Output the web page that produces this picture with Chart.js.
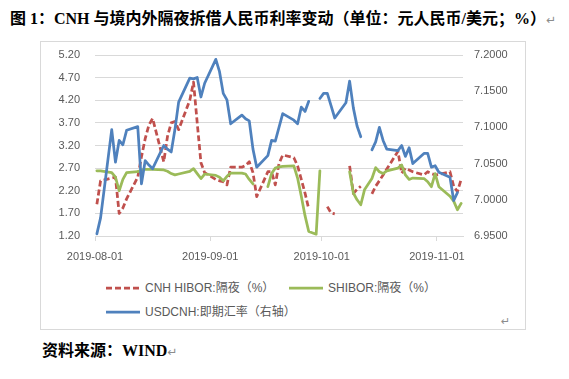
<!DOCTYPE html>
<html><head><meta charset="utf-8">
<script src="https://cdn.jsdelivr.net/npm/chart.js@4.4.0/dist/chart.umd.min.js"></script>
<style>
html,body{margin:0;padding:0;background:#fff;}
body{width:569px;height:379px;overflow:hidden;position:relative;font-family:"Liberation Sans","Noto Sans CJK SC",sans-serif;}
#title{position:absolute;left:10px;top:9px;font-weight:bold;font-size:16px;font-family:"Liberation Serif","Noto Sans CJK SC",serif;white-space:nowrap;color:#000;line-height:20px;}
#source{position:absolute;left:42px;top:341px;font-weight:bold;font-size:16px;font-family:"Liberation Serif","Noto Sans CJK SC",serif;white-space:nowrap;color:#000;line-height:20px;}
.ret{color:#8c8c8c;font-weight:normal;font-size:12px;font-family:"DejaVu Sans",sans-serif;}
#frame{position:absolute;left:40px;top:41px;width:486px;height:289px;border:1px solid #d9d9d9;box-sizing:border-box;}
#c{position:absolute;left:41px;top:42px;}
.legtxt{position:absolute;font-size:12px;color:#595959;white-space:nowrap;line-height:16px;font-family:"Liberation Sans","Noto Sans CJK SC",sans-serif;}
.legsvg{position:absolute;width:34px;height:10px;}
</style>
</head>
<body>
<div id="title">图 1：CNH 与境内外隔夜拆借人民币利率变动（单位：元人民币/美元；%）<span class="ret">↵</span></div>
<div id="frame"></div>
<canvas id="c" width="484" height="229" style="width:484px;height:229px"></canvas>
<svg class="legsvg" style="left:106px;top:283px"><line x1="0" y1="5" x2="34" y2="5" stroke="#C0504D" stroke-width="2.75" stroke-dasharray="6 3"/></svg>
<div class="legtxt" style="left:145px;top:280px">CNH HIBOR:隔夜（%）</div>
<svg class="legsvg" style="left:289px;top:283px"><line x1="0" y1="5" x2="34" y2="5" stroke="#9BBB59" stroke-width="2.75"/></svg>
<div class="legtxt" style="left:328px;top:280px">SHIBOR:隔夜（%）</div>
<svg class="legsvg" style="left:106px;top:307px"><line x1="0" y1="5" x2="34" y2="5" stroke="#4F81BD" stroke-width="2.75"/></svg>
<div class="legtxt" style="left:145px;top:304px">USDCNH:即期汇率（右轴）</div>
<div class="legtxt" style="left:501px;top:314px;color:#8c8c8c;font-size:11px;font-family:'DejaVu Sans'">↵</div>
<div id="source">资料来源：WIND<span class="ret">↵</span></div>
<script>
const dates = [
'2019-08-01','2019-08-02','2019-08-05','2019-08-06','2019-08-07','2019-08-08','2019-08-09',
'2019-08-12','2019-08-13','2019-08-14','2019-08-15','2019-08-16',
'2019-08-19','2019-08-20','2019-08-21','2019-08-22','2019-08-23',
'2019-08-26','2019-08-27','2019-08-28','2019-08-29','2019-08-30',
'2019-09-02','2019-09-03','2019-09-04','2019-09-05','2019-09-06',
'2019-09-09','2019-09-10','2019-09-11','2019-09-12','2019-09-13',
'2019-09-16','2019-09-17','2019-09-18','2019-09-19','2019-09-20',
'2019-09-23','2019-09-24','2019-09-25','2019-09-26','2019-09-27','2019-09-29','2019-09-30',
'2019-10-01','2019-10-02','2019-10-03','2019-10-04','2019-10-07',
'2019-10-08','2019-10-09','2019-10-10','2019-10-11','2019-10-12',
'2019-10-14','2019-10-15','2019-10-16','2019-10-17','2019-10-18',
'2019-10-21','2019-10-22','2019-10-23','2019-10-24','2019-10-25',
'2019-10-28','2019-10-29','2019-10-30','2019-10-31','2019-11-01',
'2019-11-04','2019-11-05','2019-11-06','2019-11-07'];

const cnhHibor = [
1.90,2.42,2.48,2.50,1.70,1.82,2.02, 2.50,2.95,3.35,3.65,3.80, 2.84,3.40,3.70,3.73,3.55, 4.20,4.60,3.70,2.82,2.60,
2.45,2.42,2.40,2.33,2.72, 2.72,2.76,2.84,2.60,2.07, 2.62,2.62,2.33,2.80,2.99, 2.93,2.75,2.45,2.15,1.80, null,null,
null,1.85,1.71,1.69,null, 2.75,2.14,2.23,2.30,null, 2.13,2.30,2.42,2.55,2.68, 3.07,2.59,2.70,2.66,2.62, 2.55,2.62,2.58,2.55,
2.56,2.62,2.30,2.18,2.45];

const shibor = [
2.64,2.64,2.60,2.50,2.20,2.45,2.60, 2.62,2.66,2.67,2.67,2.67, 2.66,2.63,2.58,2.55,2.57, 2.63,2.69,2.58,2.47,2.57,
2.54,2.50,2.42,2.52,2.59, 2.59,2.57,2.45,2.35,null, 2.29,2.58,2.70,2.73,2.74, 2.75,2.48,2.08,1.65,1.30, 1.24,2.64,
null,null,null,null,null, 2.62,2.15,2.00,1.89,2.22, 2.47,2.71,2.62,2.58,2.64, 2.70,2.77,2.55,2.45,2.48, 2.47,2.40,2.29,2.58,
2.29,2.08,1.97,1.78,1.92];

const usdcnh = [
6.953,6.975,7.097,7.052,7.082,7.076,7.096, 7.101,7.022,7.054,7.048,7.043, 7.075,7.070,7.066,7.097,7.135, 7.168,7.167,7.169,7.142,7.161,
7.194,7.177,7.147,7.138,7.105, 7.117,7.112,7.109,7.070,7.045, 7.061,7.082,7.081,7.100,7.119, 7.110,7.105,7.128,7.122,7.136, null,7.140,
7.147,7.147,7.130,7.113,7.134, 7.164,7.127,7.102,7.087,null, 7.069,7.080,7.100,7.082,7.070, 7.068,7.075,7.060,7.072,7.050, 7.064,7.064,7.045,7.047,
7.038,7.031,6.999,7.010,null];

const xTickLabels = ['2019-08-01','2019-09-01','2019-10-01','2019-11-01'];
const leftTicks = {min:1.2, max:5.2, step:0.5};
const rightTicks = {min:6.95, max:7.2, step:0.05};
const seriesNames = ['CNH HIBOR:隔夜（%）','SHIBOR:隔夜（%）','USDCNH:即期汇率（右轴）'];

function dayIndex(s){
  const p = s.split('-').map(Number);
  return (Date.UTC(p[0],p[1]-1,p[2]) - Date.UTC(2019,7,1)) / 86400000;
}
function pts(arr){ return dates.map((d,i)=>({x: dayIndex(d)+0.5, y: arr[i]})); }

const tickFont = {family:'Liberation Sans', size:11};
const lastDay = dayIndex(dates[dates.length-1]) + 1;

new Chart(document.getElementById('c'), {
  type:'line',
  data:{datasets:[
    {label:seriesNames[0], data:pts(cnhHibor), yAxisID:'y', borderColor:'#C0504D', borderWidth:2.75, borderDash:[6,3], order:2},
    {label:seriesNames[1], data:pts(shibor), yAxisID:'y', borderColor:'#9BBB59', borderWidth:2.75, borderCapStyle:'round', order:1},
    {label:seriesNames[2], data:pts(usdcnh), yAxisID:'y1', borderColor:'#4F81BD', borderWidth:2.75, borderCapStyle:'round', order:0}
  ]},
  options:{
    responsive:false, animation:false, devicePixelRatio:1,
    spanGaps:false,
    elements:{point:{radius:0, hoverRadius:0}, line:{tension:0, borderJoinStyle:'round', fill:false}},
    layout:{padding:{top:13,left:0,right:0,bottom:0}},
    plugins:{legend:{display:false}, title:{display:false}, tooltip:{enabled:false}},
    scales:{
      x:{
        type:'linear', min:0, max:lastDay,
        afterBuildTicks:s=>{ s.ticks = xTickLabels.map(l=>({value:dayIndex(l)})); },
        ticks:{autoSkip:false, maxRotation:0, minRotation:0, padding:9, color:'#595959', font:tickFont,
          callback:(v,i)=>xTickLabels[i]},
        grid:{display:true, drawOnChartArea:false, drawTicks:true, tickLength:5, color:'#d9d9d9'},
        border:{display:true, color:'#d9d9d9'},
        afterFit:s=>{ s.height = 35; s.paddingLeft = 0; s.paddingRight = 0; }
      },
      y:{
        position:'left', min:leftTicks.min, max:leftTicks.max,
        ticks:{stepSize:leftTicks.step, padding:15, color:'#595959', font:tickFont, callback:v=>Number(v).toFixed(2)},
        grid:{color:'#d9d9d9', drawTicks:false, lineWidth:1},
        border:{display:false},
        afterFit:s=>{ s.width = 54; s.paddingTop = 0; s.paddingBottom = 0; }
      },
      y1:{
        position:'right', min:rightTicks.min, max:rightTicks.max,
        ticks:{stepSize:rightTicks.step, padding:11, color:'#595959', font:tickFont, callback:v=>Number(v).toFixed(4)},
        grid:{display:false, drawTicks:false},
        border:{display:false},
        afterFit:s=>{ s.width = 62; s.paddingTop = 0; s.paddingBottom = 0; }
      }
    }
  }
});
</script>
</body></html>
